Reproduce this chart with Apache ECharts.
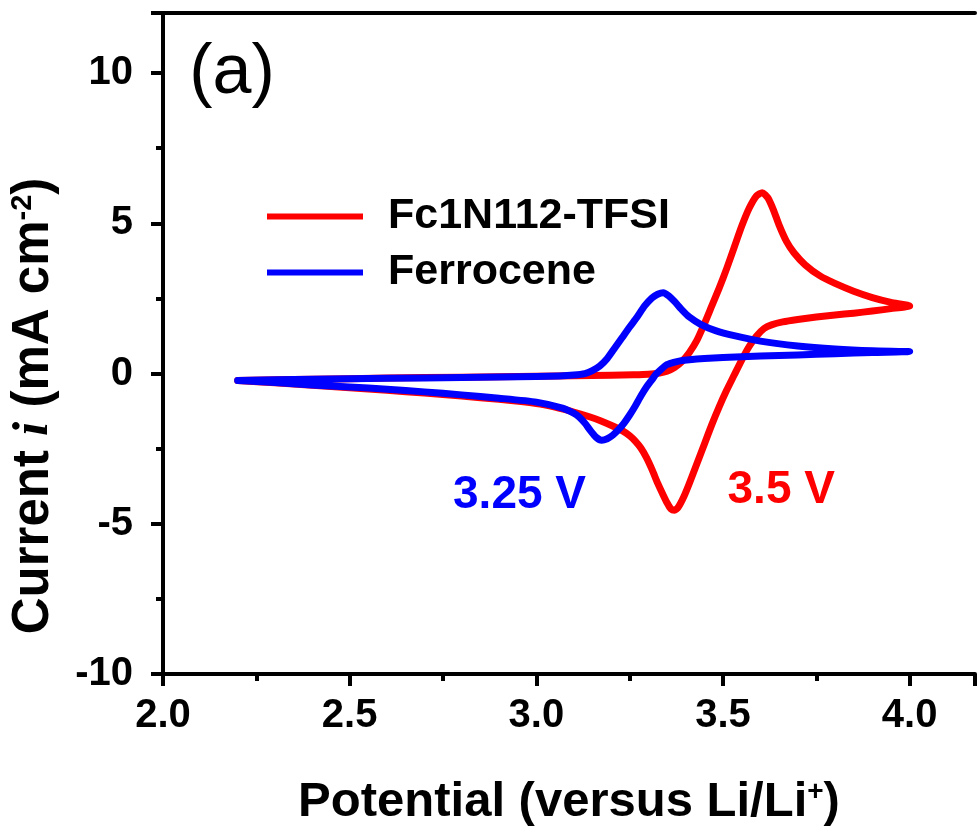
<!DOCTYPE html>
<html>
<head>
<meta charset="utf-8">
<script src="https://cdn.jsdelivr.net/npm/echarts@6/dist/echarts.min.js"></script>
<style>
  html, body { margin: 0; padding: 0; background: #fff; }
  #chart { width: 978px; height: 832px; }
</style>
</head>
<body>
<div id="chart"></div>
<script>
// ---- data ----
const seriesNames = ['Fc1N112-TFSI', 'Ferrocene'];

// Fc1N112-TFSI: anodic sweep 2.2 -> 4.0 V, then cathodic sweep 4.0 -> 2.2 V
const fcPotential = [
  2.2, 2.4, 2.6, 2.8, 3.0, 3.1, 3.2, 3.26, 3.3, 3.33, 3.35, 3.37, 3.39, 3.41, 3.43, 3.45, 3.47, 3.49,
  3.51, 3.53, 3.55, 3.57, 3.59, 3.605, 3.62, 3.635, 3.65, 3.67, 3.69, 3.72, 3.76, 3.8, 3.85, 3.9, 3.95, 4.0,
  3.95, 3.9, 3.85, 3.8, 3.75, 3.7, 3.66, 3.63, 3.61, 3.59, 3.57, 3.55, 3.53, 3.51, 3.49, 3.47, 3.45, 3.43,
  3.41, 3.395, 3.38, 3.37, 3.36, 3.35, 3.34, 3.325, 3.31, 3.295, 3.28, 3.265, 3.25, 3.23, 3.2, 3.17, 3.14,
  3.1, 3.05, 3.0, 2.9, 2.8, 2.7, 2.6, 2.5, 2.4, 2.3, 2.2
];
const fcCurrent = [
  -0.23, -0.19, -0.15, -0.12, -0.09, -0.07, -0.06, -0.04, -0.02, 0.02, 0.08, 0.2, 0.4, 0.7, 1.1, 1.65, 2.25, 2.85,
  3.5, 4.2, 4.9, 5.5, 5.92, 6.02, 5.85, 5.45, 4.95, 4.4, 4.02, 3.62, 3.25, 3.0, 2.74, 2.53, 2.37, 2.25,
  2.16, 2.08, 2.01, 1.95, 1.88, 1.8, 1.72, 1.62, 1.5, 1.25, 0.9, 0.45, -0.05, -0.55, -1.1, -1.7, -2.35, -3.0,
  -3.65, -4.1, -4.45, -4.55, -4.5, -4.3, -4.05, -3.65, -3.2, -2.8, -2.48, -2.25, -2.07, -1.9, -1.72, -1.56, -1.43,
  -1.28, -1.12, -1.0, -0.86, -0.75, -0.65, -0.56, -0.47, -0.39, -0.31, -0.23
];

// Ferrocene
const feroPotential = [
  2.2, 2.4, 2.6, 2.8, 3.0, 3.06, 3.1, 3.13, 3.15, 3.17, 3.19, 3.21, 3.23, 3.25, 3.27, 3.29, 3.31, 3.325,
  3.34, 3.355, 3.37, 3.39, 3.41, 3.44, 3.48, 3.53, 3.6, 3.7, 3.8, 3.9, 4.0,
  3.9, 3.8, 3.7, 3.6, 3.5, 3.45, 3.41, 3.385, 3.365, 3.35, 3.335, 3.32, 3.31, 3.295, 3.28, 3.265, 3.25,
  3.235, 3.22, 3.205, 3.19, 3.175, 3.16, 3.145, 3.13, 3.115, 3.1, 3.07, 3.0, 2.9, 2.8, 2.7, 2.6, 2.5,
  2.4, 2.3, 2.2
];
const feroCurrent = [
  -0.23, -0.19, -0.16, -0.13, -0.1, -0.08, -0.05, 0.0, 0.1, 0.25, 0.5, 0.85, 1.2, 1.55, 1.88, 2.25, 2.52, 2.64,
  2.69, 2.58, 2.4, 2.12, 1.88, 1.64, 1.43, 1.26, 1.08, 0.92, 0.82, 0.76, 0.73,
  0.7, 0.66, 0.62, 0.58, 0.53, 0.5, 0.46, 0.42, 0.36, 0.3, 0.15, -0.03, -0.2, -0.45, -0.75, -1.08, -1.38,
  -1.65, -1.87, -2.05, -2.17, -2.22, -2.12, -1.9, -1.65, -1.45, -1.32, -1.15, -0.95, -0.82, -0.71, -0.61, -0.52, -0.45,
  -0.38, -0.3, -0.23
];

const xTicks = [2.0, 2.5, 3.0, 3.5, 4.0];
const yTicks = [-10, -5, 0, 5, 10];

// peak-potential annotations: [text, potential, current, series index]
const annotations = [
  ['3.25 V', 2.955, -4.04, 1],
  ['3.5 V', 3.656, -3.9, 0]
];

// ---- chart ----
const FONT = '"Liberation Sans", Arial, Helvetica, sans-serif';
const zip = (a, b) => a.map((v, i) => [v, b[i]]);
const colors = ['#ff0000', '#0000ff'];
const X_MIN = 2.0, X_MAX = 4.175;

const chart = echarts.init(document.getElementById('chart'), null, { renderer: 'canvas' });

function annotationPoint(seriesIdx) {
  const a = annotations.find(r => r[3] === seriesIdx);
  return {
    symbol: 'rect',
    symbolSize: 1,
    itemStyle: { color: 'rgba(0,0,0,0)' },
    label: {
      show: true,
      position: 'inside',
      formatter: a[0],
      fontFamily: FONT,
      fontWeight: 'bold',
      fontSize: 46,
      color: colors[seriesIdx]
    },
    data: [{ coord: [a[1], a[2]] }]
  };
}

const axisLineStyle = { color: '#000', width: 4 };

const option = {
  backgroundColor: '#ffffff',
  animation: false,
  grid: { left: 163, top: 13, bottom: 155, right: 0, show: false },
  legend: {
    orient: 'vertical',
    left: 262, top: 190,
    icon: 'rect',
    itemWidth: 96, itemHeight: 6,
    itemGap: 13,
    data: seriesNames,
    textStyle: {
      fontFamily: FONT, fontWeight: 'bold', fontSize: 43, color: '#000',
      lineHeight: 42, padding: [0, 0, 0, 20]
    }
  },
  xAxis: [
    {
      type: 'value',
      position: 'bottom',
      min: X_MIN, max: X_MAX, interval: 0.5,
      axisLine: { show: true, onZero: false, lineStyle: axisLineStyle },
      axisTick: { show: true, inside: false, length: 12, lineStyle: axisLineStyle },
      minorTick: { show: true, splitNumber: 2, length: 7, lineStyle: axisLineStyle },
      splitLine: { show: false },
      axisLabel: {
        margin: 22,
        fontFamily: FONT, fontWeight: 'bold', fontSize: 40, color: '#000',
        formatter: v => (xTicks.indexOf(v) >= 0 ? v.toFixed(1) : '')
      },
      name: 'Potential (versus Li/Li{sup|+})',
      nameLocation: 'middle',
      nameGap: 104,
      nameTextStyle: {
        fontFamily: FONT, fontWeight: 'bold', fontSize: 49, color: '#000', lineHeight: 49,
        rich: {
          sup: { fontFamily: FONT, fontWeight: 'bold', fontSize: 28, color: '#000', verticalAlign: 'top', lineHeight: 28 }
        }
      }
    },
    {
      type: 'value',
      position: 'top',
      min: X_MIN, max: X_MAX, interval: 0.5,
      axisLine: { show: true, onZero: false, lineStyle: axisLineStyle },
      axisTick: { show: false },
      axisLabel: { show: false },
      splitLine: { show: false }
    }
  ],
  yAxis: {
    type: 'value',
    min: -10, max: 12, interval: 5,
    axisLine: { show: true, onZero: false, lineStyle: axisLineStyle },
    axisTick: { show: true, inside: false, length: 12, lineStyle: axisLineStyle },
    minorTick: { show: true, splitNumber: 2, length: 7, lineStyle: axisLineStyle },
    splitLine: { show: false },
    axisLabel: {
      margin: 30,
      fontFamily: FONT, fontWeight: 'bold', fontSize: 40, color: '#000',
      formatter: v => (yTicks.indexOf(v) >= 0 ? String(v) : '')
    }
  },
  graphic: [
    {
      type: 'text',
      x: 232, y: 74,
      style: {
        text: '(a)',
        font: '70px ' + FONT,
        fill: '#000',
        textAlign: 'center',
        textVerticalAlign: 'middle'
      }
    },
    {
      type: 'text',
      x: 34, y: 406,
      rotation: Math.PI / 2,
      style: {
        text: 'Current {it|i} (mA cm{sup|-2})',
        font: 'bold 51px ' + FONT,
        fill: '#000',
        textAlign: 'center',
        textVerticalAlign: 'middle',
        rich: {
          it: { fontFamily: '"Liberation Serif", "DejaVu Serif", serif', fontStyle: 'italic', fontWeight: 'bold', fontSize: 51, fill: '#000' },
          sup: { fontFamily: FONT, fontWeight: 'bold', fontSize: 29, fill: '#000', verticalAlign: 'top', lineHeight: 29 }
        }
      }
    }
  ],
  series: [
    {
      name: seriesNames[0],
      type: 'line',
      xAxisIndex: 0,
      data: zip(fcPotential, fcCurrent),
      showSymbol: false, symbol: 'none',
      smooth: 0.2,
      color: colors[0],
      lineStyle: { color: colors[0], width: 7, cap: 'round', join: 'round' },
      markPoint: annotationPoint(0),
      z: 2
    },
    {
      name: seriesNames[1],
      type: 'line',
      xAxisIndex: 0,
      data: zip(feroPotential, feroCurrent),
      showSymbol: false, symbol: 'none',
      smooth: 0.2,
      color: colors[1],
      lineStyle: { color: colors[1], width: 7, cap: 'round', join: 'round' },
      markPoint: annotationPoint(1),
      z: 3
    }
  ]
};

chart.setOption(option);
</script>
</body>
</html>
